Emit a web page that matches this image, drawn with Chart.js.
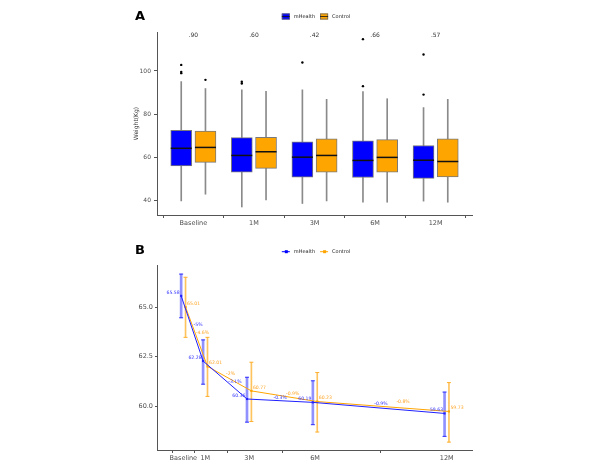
<!DOCTYPE html>
<html><head><meta charset="utf-8">
<script src="https://cdn.jsdelivr.net/npm/chart.js@4/dist/chart.umd.min.js"></script>
<style>
html,body{margin:0;padding:0;background:#fff;}
#wrap{position:relative;width:600px;height:468px;overflow:hidden;}
canvas{position:absolute;left:0;}
#ca{top:0;} #cb{top:234px;}
</style></head>
<body><div id="wrap">
<canvas id="ca" width="600" height="234"></canvas>
<canvas id="cb" width="600" height="234"></canvas>
</div>
<script>
// ---------- Panel A data (boxplots) ----------
const groups = ['Baseline', '1M', '3M', '6M', '12M'];
const seriesNames = ['mHealth', 'Control'];
const pValues = ['.90', '.60', '.42', '.66', '.57'];

const mHealthMin = [40.0, 37.2, 38.8, 39.4, 39.9];
const mHealthQ1  = [56.2, 53.3, 51.0, 50.8, 50.4];
const mHealthMed = [64.3, 61.0, 60.2, 58.7, 58.8];
const mHealthQ3  = [72.6, 69.2, 67.3, 67.8, 65.6];
const mHealthMax = [95.1, 91.3, 91.3, 90.5, 83.1];
const mHealthOutliers = [[102.8, 99.6, 99.0], [95.0, 94.2], [103.9], [114.7, 93.0], [107.6, 89.1]];

const controlMin = [43.1, 40.5, 40.0, 39.4, 39.4];
const controlQ1  = [57.8, 55.0, 53.3, 53.3, 51.1];
const controlMed = [64.7, 62.7, 61.0, 60.1, 58.2];
const controlQ3  = [72.3, 69.4, 68.7, 68.3, 68.7];
const controlMax = [91.9, 90.6, 86.9, 87.2, 86.9];
const controlOutliers = [[95.9], [], [], [], []];

// ---------- Panel B data (means with intervals) ----------
const months = [0, 1, 3, 6, 12];
const mHealthMean  = [65.58, 62.28, 60.36, 60.19, 59.63];
const mHealthLower = [64.47, 61.11, 59.19, 59.06, 58.47];
const mHealthUpper = [66.68, 63.35, 61.46, 61.28, 60.71];
const controlMean  = [65.01, 62.01, 60.77, 60.23, 59.73];
const controlLower = [63.48, 60.49, 59.22, 58.69, 58.18];
const controlUpper = [66.52, 63.48, 62.22, 61.70, 61.19];
const mHealthChange = ['-5%', '-3.1%', '-0.3%', '-0.9%'];
const controlChange = ['-4.6%', '-2%', '-0.9%', '-0.8%'];
// where the change labels sit (month, kg)
const mHealthChangeMonth = [0.67, 2.35, 4.41, 9.0];
const mHealthChangeKg    = [64.11, 61.23, 60.42, 60.10];
const controlChangeMonth = [0.87, 2.15, 4.98, 10.01];
const controlChangeKg    = [63.71, 61.63, 60.60, 60.20];

// ---------- styles ----------
const BLUE = '#0000ff', ORANGE = '#ffa500';
const FONT = '"DejaVu Sans", Verdana, sans-serif';
const TICK = '#4d4d4d', AXIS = '#555555';
const DODGE_A = 0.2, DODGE_B = 0.1;

Chart.defaults.font.family = FONT;
Chart.defaults.animation = false;

function legendKeys(ctx, y, kind) {
  ctx.save();
  ctx.font = '5px ' + FONT;
  ctx.textBaseline = 'middle';
  const w0 = ctx.measureText(seriesNames[0]).width, w1 = ctx.measureText(seriesNames[1]).width;
  const total = 8 + 4 + w0 + 5 + 8 + 4 + w1;
  let x = 316 - total / 2;
  [BLUE, ORANGE].forEach((c, k) => {
    if (kind === 'box') {
      ctx.fillStyle = c; ctx.fillRect(x, y - 3, 8, 6);
      ctx.strokeStyle = '#666'; ctx.lineWidth = 0.8; ctx.strokeRect(x + 0.4, y - 2.6, 7.2, 5.2);
      ctx.strokeStyle = '#111'; ctx.beginPath(); ctx.moveTo(x, y); ctx.lineTo(x + 8, y); ctx.stroke();
    } else {
      ctx.strokeStyle = c; ctx.lineWidth = 1;
      ctx.beginPath(); ctx.moveTo(x, y); ctx.lineTo(x + 8, y); ctx.stroke();
      ctx.fillStyle = c; ctx.fillRect(x + 3, y - 1.5, 3, 3);
    }
    ctx.fillStyle = '#222';
    ctx.textAlign = 'left';
    ctx.fillText(seriesNames[k], x + 12, y);
    x += 12 + (k === 0 ? w0 : w1) + 5;
  });
  ctx.restore();
}

// ---------- Panel A ----------
const annotA = {
  id: 'annotA',
  afterDraw(chart) {
    const ctx = chart.ctx, xs = chart.scales.x, ys = chart.scales.y;
    ctx.save();
    ctx.font = '6px ' + FONT; ctx.fillStyle = '#333';
    ctx.textAlign = 'center'; ctx.textBaseline = 'middle';
    pValues.forEach((p, i) => ctx.fillText(p, xs.getPixelForValue(i + 1), ys.getPixelForValue(116.2)));
    ctx.font = 'bold 13px ' + FONT; ctx.fillStyle = '#000'; ctx.textAlign = 'left';
    ctx.fillText('A', 135, 17);
    ctx.restore();
    legendKeys(ctx, 16.5, 'box');
  }
};

function boxSets(name, color, off, mins, q1, med, q3, maxs, outs) {
  return [
    { type: 'line', label: name + ' outliers', order: 0, showLine: false,
      data: outs.flatMap((arr, i) => arr.map(v => ({ x: i + 1 + off, y: v }))),
      pointRadius: 1.2, pointBackgroundColor: '#000', pointBorderWidth: 0 },
    { type: 'line', label: name + ' median', order: 1, showLine: false,
      data: med.map((v, i) => ({ x: i + 1 + off, y: v })),
      pointStyle: 'line', pointRadius: 10.5, pointBorderColor: '#111', pointBorderWidth: 1.5 },
    { type: 'bar', label: name, order: 2, grouped: false, barThickness: 21,
      data: q1.map((v, i) => ({ x: i + 1 + off, y: [v, q3[i]] })),
      backgroundColor: color, borderColor: '#7a7a7a', borderWidth: 1, borderSkipped: false },
    { type: 'bar', label: name + ' whisker', order: 3, grouped: false, barThickness: 1,
      data: mins.map((v, i) => ({ x: i + 1 + off, y: [v, maxs[i]] })),
      backgroundColor: '#8a8a8a', borderWidth: 0 }
  ];
}

new Chart(document.getElementById('ca'), {
  type: 'bar',
  data: { datasets: [
    ...boxSets('mHealth', BLUE, -DODGE_A, mHealthMin, mHealthQ1, mHealthMed, mHealthQ3, mHealthMax, mHealthOutliers),
    ...boxSets('Control', ORANGE, DODGE_A, controlMin, controlQ1, controlMed, controlQ3, controlMax, controlOutliers)
  ]},
  options: {
    responsive: false,
    layout: { padding: { left: 128, right: 128, top: 32, bottom: 4 } },
    plugins: { legend: { display: false }, tooltip: { enabled: false } },
    scales: {
      x: {
        type: 'linear', min: 0.4, max: 5.6, offset: false,
        afterBuildTicks: s => { s.ticks = groups.map((g, i) => ({ value: i + 1 })); },
        afterFit: s => { s.height = 15; },
        ticks: { callback: v => groups[v - 1], color: TICK, font: { size: 6.5 }, padding: 1, autoSkip: false, maxRotation: 0 },
        grid: { display: true, drawOnChartArea: false, drawTicks: true, tickLength: 3, color: AXIS },
        border: { display: true, color: AXIS, width: 1 }
      },
      y: {
        min: 33.5, max: 118, beginAtZero: false,
        afterBuildTicks: s => { s.ticks = [40, 60, 80, 100].map(v => ({ value: v })); },
        afterFit: s => { s.width = 29; },
        ticks: { color: TICK, font: { size: 6 }, padding: 3 },
        grid: { display: true, drawOnChartArea: false, drawTicks: true, tickLength: 3, color: AXIS },
        border: { display: true, color: AXIS, width: 1 },
        title: { display: true, text: 'Weight(Kg)', color: '#333', font: { size: 6 }, padding: { top: 5, bottom: 0 } }
      }
    }
  },
  plugins: [annotA]
});

// ---------- Panel B ----------
const annotB = {
  id: 'annotB',
  afterDraw(chart) {
    const ctx = chart.ctx, xs = chart.scales.x, ys = chart.scales.y;
    ctx.save();
    ctx.font = '4.6px ' + FONT; ctx.textBaseline = 'middle';
    months.forEach((m, i) => {
      ctx.fillStyle = '#3333ff'; ctx.textAlign = 'right';
      ctx.fillText(mHealthMean[i].toFixed(2), xs.getPixelForValue(m - DODGE_B) - 1.5, ys.getPixelForValue(mHealthMean[i]) - 3.5);
      ctx.fillStyle = '#ffa526'; ctx.textAlign = 'left';
      ctx.fillText(controlMean[i].toFixed(2), xs.getPixelForValue(m + DODGE_B) + 1.5, ys.getPixelForValue(controlMean[i]) - 3.5);
    });
    ctx.textAlign = 'center';
    mHealthChange.forEach((t, i) => {
      ctx.fillStyle = '#3333ff';
      ctx.fillText(t, xs.getPixelForValue(mHealthChangeMonth[i]), ys.getPixelForValue(mHealthChangeKg[i]));
    });
    controlChange.forEach((t, i) => {
      ctx.fillStyle = '#ffa526';
      ctx.fillText(t, xs.getPixelForValue(controlChangeMonth[i]), ys.getPixelForValue(controlChangeKg[i]));
    });
    ctx.font = 'bold 13px ' + FONT; ctx.fillStyle = '#000'; ctx.textAlign = 'left';
    ctx.fillText('B', 135, 17);
    ctx.restore();
    legendKeys(ctx, 17.7, 'line');
  }
};

function meanSets(name, color, barColor, capColor, thick, off, mean, lo, hi, ord) {
  return [
    { type: 'line', label: name, order: ord,
      data: mean.map((v, i) => ({ x: months[i] + off, y: v })),
      borderColor: color, borderWidth: 1, tension: 0,
      pointStyle: 'rect', pointRadius: 1.5, pointBackgroundColor: color, pointBorderWidth: 0 },
    { type: 'line', label: name + ' caps', order: ord + 2, showLine: false,
      data: lo.flatMap((v, i) => [{ x: months[i] + off, y: v }, { x: months[i] + off, y: hi[i] }]),
      pointStyle: 'line', pointRadius: 2, pointBorderColor: capColor, pointBorderWidth: 1 },
    { type: 'bar', label: name + ' interval', order: ord + 4, grouped: false, barThickness: thick,
      data: lo.map((v, i) => ({ x: months[i] + off, y: [v, hi[i]] })),
      backgroundColor: barColor, borderWidth: 0 }
  ];
}

new Chart(document.getElementById('cb'), {
  type: 'bar',
  data: { datasets: [
    ...meanSets('mHealth', '#2020ff', 'rgba(70,70,255,0.6)', '#3030ff', 2, -DODGE_B, mHealthMean, mHealthLower, mHealthUpper, 0),
    ...meanSets('Control', ORANGE, 'rgba(255,175,40,0.75)', '#ffb030', 1, DODGE_B, controlMean, controlLower, controlUpper, 1)
  ]},
  options: {
    responsive: false,
    layout: { padding: { left: 128, right: 128, top: 31, bottom: 3 } },
    plugins: { legend: { display: false }, tooltip: { enabled: false } },
    scales: {
      x: {
        type: 'linear', min: -1.2, max: 13.15, offset: false,
        afterBuildTicks: s => { s.ticks = months.map(m => ({ value: m })); },
        afterFit: s => { s.height = 15; },
        ticks: { callback: v => groups[months.indexOf(v)], color: TICK, font: { size: 6.5 }, padding: 1, autoSkip: false, maxRotation: 0 },
        grid: { display: true, drawOnChartArea: false, drawTicks: true, tickLength: 3, color: AXIS },
        border: { display: true, color: AXIS, width: 1 }
      },
      y: {
        min: 57.78, max: 67.14, beginAtZero: false,
        afterBuildTicks: s => { s.ticks = [60, 62.5, 65].map(v => ({ value: v })); },
        afterFit: s => { s.width = 29; },
        ticks: { callback: v => v.toFixed(1), color: TICK, font: { size: 6.5 }, padding: 2 },
        grid: { display: true, drawOnChartArea: false, drawTicks: true, tickLength: 2, color: AXIS },
        border: { display: true, color: AXIS, width: 1 }
      }
    }
  },
  plugins: [annotB]
});
</script>
</body></html>
